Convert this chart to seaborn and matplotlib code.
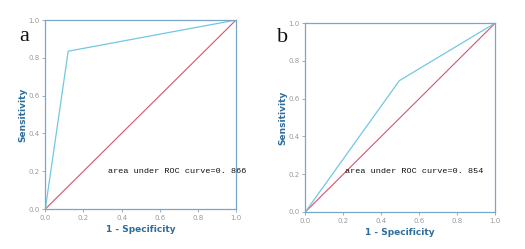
import matplotlib
matplotlib.use("Agg")
import matplotlib.pyplot as plt
import seaborn as sns
import pandas as pd

sns.set_style("white")
plt.rcParams['font.family'] = ['DejaVu Sans']

# ROC curve a
fpr_a = [0.0, 0.12, 1.0]
tpr_a = [0.0, 0.835, 1.0]
# ROC curve b
fpr_b = [0.0, 0.495, 1.0]
tpr_b = [0.0, 0.695, 1.0]
ref_x = [0.0, 1.0]
ref_y = [0.0, 1.0]
ticks = [0.0, 0.2, 0.4, 0.6, 0.8, 1.0]
tick_labels = ["0.0", "0.2", "0.4", "0.6", "0.8", "1.0"]
panel_labels = ["a", "b"]
auc_texts = ["area under ROC curve=0. 866", "area under ROC curve=0. 854"]
auc_pos = [(0.33, 0.20), (0.21, 0.215)]

curve_col = "#72c7e2"
ref_col = "#d9546a"
spine_col = "#7aa6c9"
label_col = "#2f6e9c"

fig = plt.figure(figsize=(5.25, 2.49), dpi=100)
axes = [fig.add_axes([0.0863, 0.1606, 0.3632, 0.759]),
        fig.add_axes([0.5815, 0.1486, 0.3619, 0.759])]
panel_xy = [(0.036, 0.835), (0.528, 0.83)]

for i, (ax, fx, ty) in enumerate(zip(axes, [fpr_a, fpr_b], [tpr_a, tpr_b])):
    df = pd.DataFrame({"x": fx, "y": ty})
    dref = pd.DataFrame({"x": ref_x, "y": ref_y})
    sns.lineplot(data=dref, x="x", y="y", ax=ax, color=ref_col, lw=0.8, sort=False)
    sns.lineplot(data=df, x="x", y="y", ax=ax, color=curve_col, lw=0.9, sort=False)
    ax.set_xlim(0, 1)
    ax.set_ylim(0, 1)
    ax.set_xticks(ticks)
    ax.set_xticklabels(tick_labels)
    ax.set_yticks(ticks)
    ax.set_yticklabels(tick_labels)
    ax.tick_params(axis="both", labelsize=5, colors="#9a9a9a", length=2.5, width=0.6,
                   pad=1.5, direction="out", bottom=True, left=True)
    ax.tick_params(axis="both", color=spine_col)
    for s in ax.spines.values():
        s.set_color(spine_col)
        s.set_linewidth(0.9)
    ax.set_xlabel("1 - Specificity", fontsize=6.5, fontweight="bold", color=label_col, labelpad=3)
    ax.set_ylabel("Sensitivity", fontsize=6.5, fontweight="bold", color=label_col, labelpad=1)
    tx, tyy = auc_pos[i]
    ax.text(tx, tyy, auc_texts[i], fontsize=6.1, family=["Liberation Mono", "DejaVu Sans Mono"],
            color="#111111", va="center", ha="left")
    fig.text(panel_xy[i][0], panel_xy[i][1], panel_labels[i], fontsize=16,
             family=["Liberation Serif", "DejaVu Serif"], color="#111111")

fig.savefig("out.png", dpi=100, facecolor="white")
